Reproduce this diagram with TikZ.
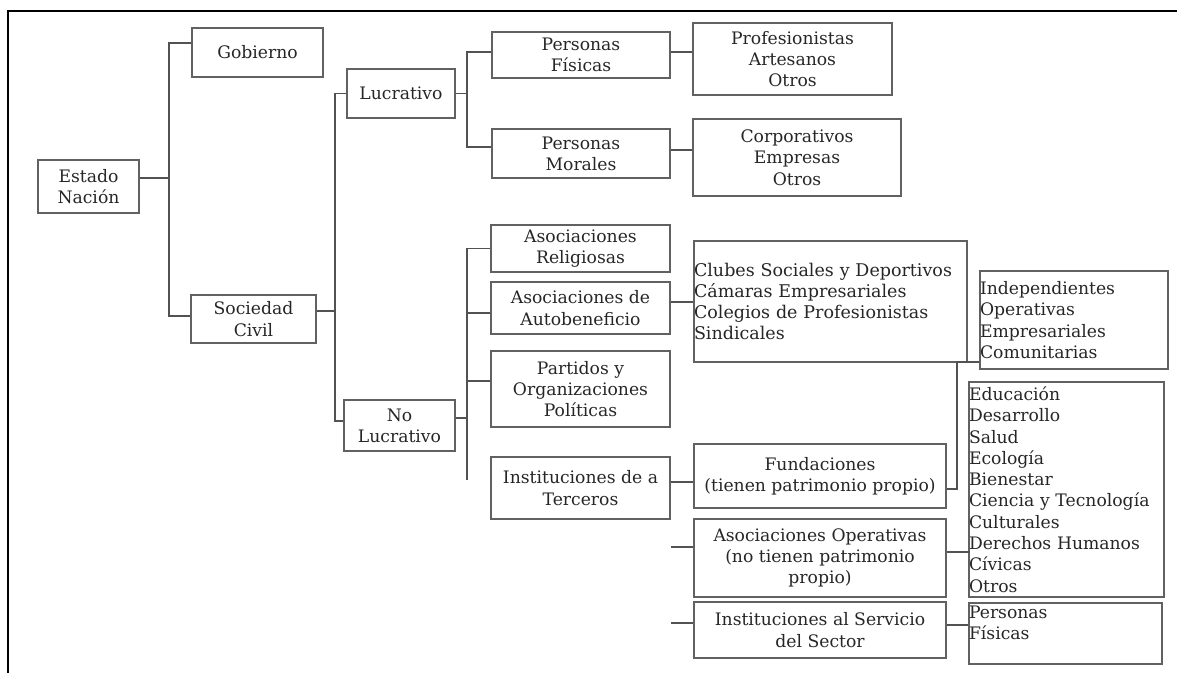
\documentclass[tikz,border=0pt]{standalone}
\usepackage{fontspec}
\setmainfont{DejaVu Serif}
\begin{document}
\begin{tikzpicture}[x=1pt,y=-1pt,
  box/.style={draw=black!62, line width=1.1pt, inner sep=0pt, align=center, text=black!85, font=\fontsize{17.2}{21.3}\selectfont},
  lbox/.style={box, align=left, text width=#1},
  conn/.style={draw=black!68, line width=1.1pt},
  frameline/.style={line width=2.6pt, draw=black}]
\useasboundingbox (0,0) rectangle (1177,673);
% frame
\draw[frameline] (1177,11) -- (8,11) -- (8,673);
% level 0-1
\node[box, minimum width=101pt, minimum height=53pt] (estado) at (88.5,186.5) {Estado\\Nación};
\node[box, minimum width=131pt, minimum height=49pt] (gobierno) at (257.5,52.5) {Gobierno};
\node[box, minimum width=125pt, minimum height=48pt] (sociedad) at (253.5,319) {Sociedad\\Civil};
% level 2
\node[box, minimum width=108pt, minimum height=49pt] (lucrativo) at (401,93.5) {Lucrativo};
\node[box, minimum width=111pt, minimum height=51pt] (nolucrativo) at (399.5,425.5) {No\\Lucrativo};
% level 3 lucrativo
\node[box, minimum width=178pt, minimum height=46pt] (pfisicas) at (581,55) {Personas\\Físicas};
\node[box, minimum width=178pt, minimum height=49pt] (pmorales) at (581,153.5) {Personas\\Morales};
\node[box, minimum width=199pt, minimum height=72pt] (profesionistas) at (792.5,59) {Profesionistas\\Artesanos\\Otros};
\node[box, minimum width=208pt, minimum height=77pt] (corporativos) at (797,157.5) {Corporativos\\Empresas\\Otros};
% level 3 no lucrativo
\node[box, minimum width=179pt, minimum height=47pt] (religiosas) at (580.5,248.5) {Asociaciones\\Religiosas};
\node[box, minimum width=179pt, minimum height=52pt] (autobeneficio) at (580.5,308) {Asociaciones de\\Autobeneficio};
\node[box, minimum width=179pt, minimum height=76pt] (partidos) at (580.5,389) {Partidos y\\Organizaciones\\Políticas};
\node[box, minimum width=179pt, minimum height=62pt] (terceros) at (580.5,488) {Instituciones de a\\Terceros};
% level 4
\node[lbox=273pt, minimum height=121pt, font=\fontsize{17.5}{21.3}\selectfont] (clubes) at (830.5,301.5) {Clubes Sociales y Deportivos\\Cámaras Empresariales\\Colegios de Profesionistas\\Sindicales};
\node[lbox=188pt, minimum height=98pt] (independientes) at (1074,320) {Independientes\\Operativas\\Empresariales\\Comunitarias};
\node[box, minimum width=252pt, minimum height=64pt] (fundaciones) at (820,476) {Fundaciones\\(tienen patrimonio propio)};
\node[box, minimum width=252pt, minimum height=78pt] (operativas) at (820,558) {Asociaciones Operativas\\(no tienen patrimonio\\propio)};
\node[box, minimum width=252pt, minimum height=56pt] (servicio) at (820,630) {Instituciones al Servicio\\del Sector};
\node[lbox=195pt, minimum height=215pt] (educacion) at (1066.5,489.5) {Educación\\Desarrollo\\Salud\\Ecología\\Bienestar\\Ciencia y Tecnología\\Culturales\\Derechos Humanos\\Cívicas\\Otros};
\node[box, minimum width=193pt, minimum height=61pt] (pfis2) at (1065.5,633.5) {\parbox[c][61pt][t]{193pt}{\vspace{3pt}Personas\\Físicas}};
% junction coordinates
\coordinate (jA) at (169,178);
\coordinate (jB) at (335,311);
\coordinate (jC) at (467,93.5);
\coordinate (jD) at (467,418);
\coordinate (jDend) at (467,480);
\coordinate (jE) at (957,362);
\coordinate (sO) at (671,547);
\coordinate (sS) at (671,623);
% connectors level 0-1
\draw[conn] (estado.east |- jA) -- (jA);
\draw[conn] ([yshift=9.5pt]gobierno.west) -| (jA) |- ([yshift=3pt]sociedad.west);
% sociedad -> lucrativo / no lucrativo
\draw[conn] ([yshift=8pt]sociedad.east) -- (jB);
\draw[conn] (lucrativo.west) -| (jB) |- ([yshift=4.5pt]nolucrativo.west);
% lucrativo branch
\draw[conn] (lucrativo.east) -- (jC);
\draw[conn] ([yshift=3pt]pfisicas.west) -| (jC) |- ([yshift=6.5pt]pmorales.west);
\draw[conn] ([yshift=3pt]pfisicas.east) -- ([yshift=7pt]profesionistas.west);
\draw[conn] ([yshift=3.5pt]pmorales.east) -- ([yshift=7.5pt]corporativos.west);
% no lucrativo branch
\draw[conn] ([yshift=7.5pt]nolucrativo.east) -- (jD);
\draw[conn] (religiosas.west) -| (jDend);
\draw[conn] ([yshift=-5pt]autobeneficio.west) -- ++(-24,0);
\draw[conn] ([yshift=8pt]partidos.west) -- ++(-24,0);
\draw[conn] ([yshift=6pt]autobeneficio.east) -- ([yshift=-0.5pt]clubes.west);
\draw[conn] ([yshift=6pt]terceros.east) -- ([yshift=-6pt]fundaciones.west);
\draw[conn] ([yshift=-13pt]fundaciones.east) -| (jE) -- (independientes.west |- jE);
\draw[conn] (sO) -- ([yshift=11pt]operativas.west);
\draw[conn] ([yshift=6pt]operativas.east) -- ++(23,0);
\draw[conn] (sS) -- ([yshift=7pt]servicio.west);
\draw[conn] ([yshift=5pt]servicio.east) -- ([yshift=8.5pt]pfis2.west);
\end{tikzpicture}
\end{document}
